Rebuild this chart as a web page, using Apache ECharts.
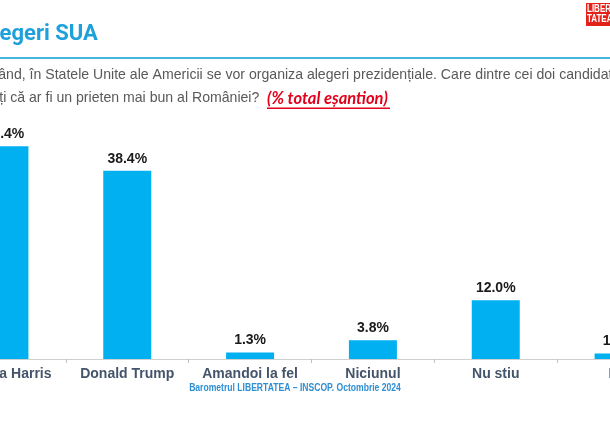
<!DOCTYPE html>
<html><head><meta charset="utf-8">
<script src="https://cdn.jsdelivr.net/npm/echarts@6/dist/echarts.min.js"></script>
<style>html,body{margin:0;padding:0;background:#fff;overflow:hidden;width:610px;height:425px;position:relative}#c{position:absolute;left:-60px;top:0;width:740px;height:425px}</style>
</head><body><div id="c"></div>
<script>
const categories = ['Kamala Harris', 'Donald Trump', 'Amandoi la fel', 'Niciunul', 'Nu stiu', 'NR'];
const values = [43.4, 38.4, 1.3, 3.8, 12.0, 1.1];
const titleText = 'Alegeri SUA';
const questionLine1 = 'În curând, în Statele Unite ale Americii se vor organiza alegeri prezidențiale. Care dintre cei doi candidați';
const questionLine2 = 'credeți că ar fi un prieten mai bun al României?';
const sampleNote = '(% total eșantion)';
const footerText = 'Barometrul LIBERTATEA – INSCOP. Octombrie 2024';

const OX = 60; // offset of the visible window inside the wider slide
const chart = echarts.init(document.getElementById('c'), null, {renderer: 'canvas'});
chart.setOption({
  animation: false,
  grid: {left: 3, right: 0, top: 113.8, bottom: 425 - 359, containLabel: false},
  xAxis: {
    type: 'category', data: categories,
    axisLine: {lineStyle: {color: '#d0d0d0', width: 1}},
    axisTick: {show: true, interval: 0, length: 4, lineStyle: {color: '#bfbfbf'}},
    axisLabel: {interval: 0, color: '#44546a', fontWeight: 'bold', fontSize: 14, fontFamily: 'Liberation Sans, Arial', margin: 8}
  },
  yAxis: {type: 'value', min: 0, max: 50, show: false, splitLine: {show: false}},
  series: [{
    type: 'bar', data: values, barWidth: 48,
    itemStyle: {color: '#00b0f0'},
    label: {show: true, position: 'top', distance: 5, color: '#1a1a1a', fontWeight: 'bold', fontSize: 14,
      fontFamily: 'Liberation Sans, Arial', formatter: p => p.value.toFixed(1) + '%'}
  }],
  graphic: [
    {type: 'text', x: OX - 21, y: 34, style: {text: titleText, fill: '#1ea1db', font: 'bold 22px Roboto, sans-serif', textVerticalAlign: 'middle'}},
    {type: 'rect', shape: {x: 0, y: 57, width: 740, height: 2}, style: {fill: '#45b5dc'}},
    {type: 'text', x: OX - 37, y: 75, style: {text: questionLine1, fill: '#595959', font: '14.1px "Liberation Sans", Arial', textVerticalAlign: 'middle'}},
    {type: 'text', x: OX - 36, y: 98, style: {text: questionLine2, fill: '#595959', font: '14.1px "Liberation Sans", Arial', textVerticalAlign: 'middle'}},
    {type: 'text', x: OX + 267, y: 99, style: {text: sampleNote, fill: '#e3001b', font: 'italic bold 16.5px Lato, sans-serif', textVerticalAlign: 'middle'}},
    {type: 'rect', shape: {x: OX + 267, y: 107.5, width: 123, height: 1.4}, style: {fill: '#e3001b'}},
    {type: 'text', x: OX + 295, y: 388, scaleX: 0.78, style: {text: footerText, fill: '#2e8fd3', font: 'bold 11px "Liberation Sans", Arial', textAlign: 'center', textVerticalAlign: 'middle'}},
    {type: 'rect', shape: {x: OX + 586, y: 3, width: 40, height: 23}, style: {fill: '#e2231a'}},
    {type: 'text', x: OX + 587, y: 9, scaleX: 0.8, style: {text: 'LIBER', fill: '#fff', font: 'bold 10px "Liberation Sans", sans-serif', textVerticalAlign: 'middle'}},
    {type: 'text', x: OX + 587, y: 19.5, scaleX: 0.8, style: {text: 'TATEA', fill: '#fff', font: 'bold 10px "Liberation Sans", sans-serif', textVerticalAlign: 'middle'}}
  ]
});
</script></body></html>
